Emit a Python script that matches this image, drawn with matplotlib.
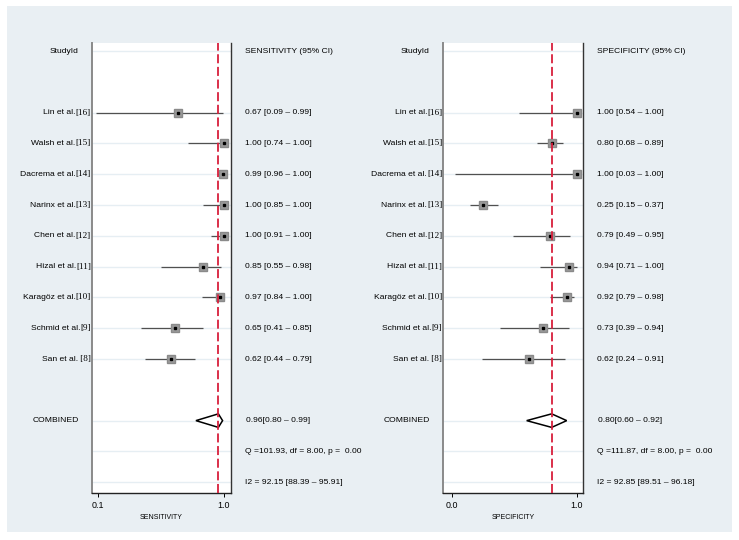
import numpy as np
import matplotlib
matplotlib.use("Agg")
import matplotlib.pyplot as plt
from matplotlib import rcParams
from matplotlib.patches import Rectangle, Polygon

fs = 6.1
rcParams["font.family"] = ["Liberation Sans", "DejaVu Sans"]
rcParams["font.size"] = fs

# Data
studies = ["Lin et al.", "Walsh et al.", "Dacrema et al.", "Narinx et al.",
           "Chen et al.", "Hizal et al.", "Karagöz et al.", "Schmid et al.",
           "San et al."]
refs = ["[16]", "[15]", "[14]", "[13]", "[12]", "[11]", "[10]", "[9]", " [8]"]

sens = [0.67, 1.00, 0.99, 1.00, 1.00, 0.85, 0.97, 0.65, 0.62]
sens_lo = [0.09, 0.74, 0.96, 0.85, 0.91, 0.55, 0.84, 0.41, 0.44]
sens_hi = [0.99, 1.00, 1.00, 1.00, 1.00, 0.98, 1.00, 0.85, 0.79]
sens_comb = [0.96, 0.80, 0.99]
sens_q = [101.93, 8.00, 0.00]
sens_i2 = [92.15, 88.39, 95.91]

spec = [1.00, 0.80, 1.00, 0.25, 0.79, 0.94, 0.92, 0.73, 0.62]
spec_lo = [0.54, 0.68, 0.03, 0.15, 0.49, 0.71, 0.79, 0.39, 0.24]
spec_hi = [1.00, 0.89, 1.00, 0.37, 0.95, 1.00, 0.98, 0.94, 0.91]
spec_comb = [0.80, 0.60, 0.92]
spec_q = [111.87, 8.00, 0.00]
spec_i2 = [92.85, 89.51, 96.18]

fig = plt.figure(figsize=(7.39, 5.40), dpi=100)
fig.patch.set_facecolor("white")
fig.patches.append(Rectangle((7/739, 8/540), 725/739, 526/540,
                             transform=fig.transFigure, facecolor="#e9eff3",
                             edgecolor="none", zorder=-10))

rows = np.arange(2, 2 + len(studies))
row_comb, row_q, row_i2 = 12, 13, 14


def forest(ax, est, lo, hi, comb, q, i2, name, xlim, ticks, ticklabels):
    ax.set_facecolor("white")
    ax.set_xlim(xlim)
    ax.set_ylim(14.35, -0.26)

    # faint row lines
    for r in [0] + list(rows) + [row_comb, row_q, row_i2]:
        ax.axhline(r, color="#e6eef3", lw=1.0, zorder=0)

    ax.hlines(rows, lo, hi, color="#505050", lw=0.9, zorder=2)
    ax.plot(est, rows, "s", ms=5.5, mfc="#9a9a9a", mec="#8a8a8a", zorder=3)
    ax.plot(est, rows, "s", ms=1.6, mfc="black", mec="black", zorder=4)

    h = 0.22
    ax.add_patch(Polygon([(comb[1], row_comb), (comb[0], row_comb - h),
                          (comb[2], row_comb), (comb[0], row_comb + h)],
                         closed=True, facecolor="white", edgecolor="black",
                         lw=1.1, zorder=5))
    ax.axvline(comb[0], color="#d81f3c", lw=1.3, dashes=(5, 2), zorder=6)

    ax.spines["top"].set_visible(False)
    ax.spines["left"].set_color("#8a8a8a")
    ax.spines["left"].set_linewidth(1.4)
    ax.spines["right"].set_color("#333333")
    ax.spines["right"].set_linewidth(1.0)
    ax.spines["bottom"].set_color("#222222")
    ax.spines["bottom"].set_linewidth(1.0)

    ax.set_yticks([])
    ax.set_xticks(ticks)
    ax.set_xticklabels(ticklabels, fontsize=fs + 0.3)
    ax.tick_params(axis="x", direction="out", length=3, width=0.7, pad=3)
    ax.set_xlabel(name, fontsize=5.0, labelpad=2.5)

    tr = ax.get_yaxis_transform()
    # left column
    ax.text(-0.20, 0, "StudyId", transform=tr, ha="center", va="center")
    for r, s, rf in zip(rows, studies, refs):
        t = ax.text(-0.008, r, rf, transform=tr, ha="right", va="center",
                    family=["Liberation Serif", "DejaVu Serif"], fontsize=6.6)
        ax.annotate(s, xy=(0, 0.5), xycoords=t, ha="right", va="center",
                    fontsize=fs)
    ax.text(-0.26, row_comb, "COMBINED", transform=tr, ha="center",
            va="center")

    # right column
    x0 = 1.10
    ax.text(x0, 0, name + " (95% CI)", transform=tr, ha="left", va="center")
    for r, e, l, u in zip(rows, est, lo, hi):
        ax.text(x0, r, f"{e:.2f} [{l:.2f} \u2013 {u:.2f}]", transform=tr,
                ha="left", va="center")
    ax.text(x0 + 0.007, row_comb, f"{comb[0]:.2f}[{comb[1]:.2f} \u2013 {comb[2]:.2f}]",
            transform=tr, ha="left", va="center")
    ax.text(x0, row_q, f"Q ={q[0]:.2f}, df = {q[1]:.2f}, p =  {q[2]:.2f}",
            transform=tr, ha="left", va="center")
    ax.text(x0, row_i2, f"I2 = {i2[0]:.2f} [{i2[1]:.2f} \u2013 {i2[2]:.2f}]",
            transform=tr, ha="left", va="center")


ax1 = fig.add_axes([92/739, 47/540, 139/739, 450/540])
forest(ax1, sens, sens_lo, sens_hi, sens_comb, sens_q, sens_i2,
       "SENSITIVITY", (0.059, 1.05), [0.1, 1.0], ["0.1", "1.0"])

ax2 = fig.add_axes([443.3/739, 47/540, 140/739, 450/540])
forest(ax2, spec, spec_lo, spec_hi, spec_comb, spec_q, spec_i2,
       "SPECIFICITY", (-0.067, 1.053), [0.0, 1.0], ["0.0", "1.0"])

plt.savefig("out.png", dpi=100, facecolor="white")
